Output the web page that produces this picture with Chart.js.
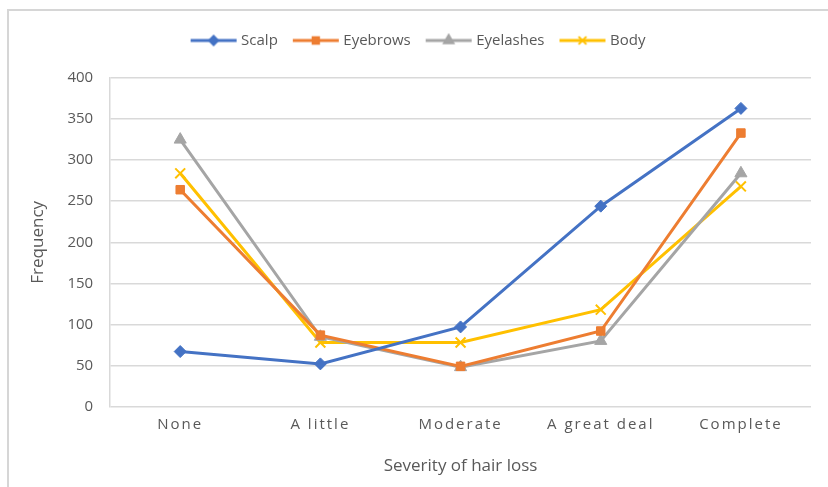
<!DOCTYPE html>
<html>
<head>
<meta charset="utf-8">
<script src="https://cdn.jsdelivr.net/npm/chart.js@4.4.1/dist/chart.umd.min.js"></script>
<style>
  html, body { margin: 0; padding: 0; background: #fff; }
  #wrap { position: relative; width: 828px; height: 487px; overflow: hidden; }
  #frame { position: absolute; left: 7px; top: 9px; width: 840px; height: 500px;
           border-top: 2px solid #d6d6d6; border-left: 2px solid #d6d6d6; box-sizing: border-box; }
  #c { position: absolute; left: 0; top: 0; }
</style>
</head>
<body>
<div id="wrap">
  <div id="frame"></div>
  <canvas id="c" width="828" height="487"></canvas>
</div>
<script>
// Severity categories and the number of responses per site of hair loss
const categories = ['None', 'A little', 'Moderate', 'A great deal', 'Complete'];
const scalp     = [67, 52, 97, 244, 363];
const eyebrows  = [264, 87, 49, 92, 333];
const eyelashes = [325, 85, 48, 80, 284];
const body      = [284, 78, 78, 118, 268];
const yTicks    = [0, 50, 100, 150, 200, 250, 300, 350, 400];

const FONT = "'Open Sans', 'Liberation Sans', sans-serif";
const TEXT = '#595959';

const styles = [
  { label: 'Scalp',     data: scalp,     color: '#4472C4', point: 'rectRot',  radius: 6 },
  { label: 'Eyebrows',  data: eyebrows,  color: '#ED7D31', point: 'rect',     radius: 6 },
  { label: 'Eyelashes', data: eyelashes, color: '#A5A5A5', point: 'triangle', radius: 7 },
  { label: 'Body',      data: body,      color: '#FFC000', point: 'crossRot', radius: 7 }
];

// Legend swatch: a short line with the series marker in its middle
function swatch(s) {
  const w = 50, h = 16;
  const cv = document.createElement('canvas');
  cv.width = w; cv.height = h;
  const ctx = cv.getContext('2d');
  ctx.strokeStyle = s.color; ctx.fillStyle = s.color; ctx.lineWidth = 3;
  ctx.beginPath(); ctx.moveTo(2, h / 2); ctx.lineTo(w - 2, h / 2); ctx.stroke();
  ctx.lineWidth = 2;
  Chart.helpers.drawPoint(ctx, { pointStyle: s.point, radius: s.radius - 1.5, borderWidth: 2 }, w / 2, h / 2);
  ctx.fill();
  return cv;
}

const datasets = styles.map(s => ({
  label: s.label,
  data: s.data,
  borderColor: s.color,
  backgroundColor: s.color,
  borderWidth: 3,
  pointStyle: s.point,
  pointRadius: s.radius,
  pointBorderWidth: s.point === 'crossRot' ? 2 : 1,
  pointBackgroundColor: s.color,
  pointBorderColor: s.color,
  tension: 0,
  legendSwatch: swatch(s)
}));

// Spaced-out category labels along the bottom axis, and extra room under the legend
const layoutTweaks = {
  id: 'layoutTweaks',
  afterInit(chart) {
    const lg = chart.legend;
    if (lg && !lg._tall) {
      const fit = lg.fit.bind(lg);
      lg.fit = function () { fit(); this.height += 20; };
      lg._tall = true;
    }
  },
  afterLayout(chart) {
    const xs = chart.scales.x;
    if (xs._spaced) return;
    const orig = xs.drawLabels.bind(xs);
    xs.drawLabels = function (area) {
      const ctx = chart.ctx;
      ctx.save();
      ctx.letterSpacing = '2px';
      orig(area);
      ctx.restore();
    };
    xs._spaced = true;
  }
};

new Chart(document.getElementById('c'), {
  type: 'line',
  data: { labels: categories, datasets },
  plugins: [layoutTweaks],
  options: {
    responsive: false,
    animation: false,
    layout: { padding: { left: 28, right: 17, top: 15, bottom: 11 } },
    plugins: {
      tooltip: { enabled: false },
      legend: {
        position: 'top',
        labels: {
          usePointStyle: true,
          pointStyleWidth: 40,
          padding: 18,
          color: TEXT,
          font: { family: FONT, size: 15 },
          generateLabels(chart) {
            return chart.data.datasets.map((d, i) => ({
              text: d.label,
              pointStyle: d.legendSwatch,
              fillStyle: d.borderColor,
              strokeStyle: d.borderColor,
              fontColor: TEXT,
              lineWidth: 0,
              hidden: false,
              datasetIndex: i
            }));
          }
        }
      }
    },
    scales: {
      x: {
        offset: true,
        grid: { display: false, drawTicks: false },
        border: { display: false },
        ticks: { color: TEXT, font: { family: FONT, size: 15 }, padding: 9 },
        title: { display: true, text: 'Severity of hair loss', color: TEXT,
                 font: { family: FONT, size: 17 }, padding: { top: 13, bottom: 0 } }
      },
      y: {
        min: 0, max: 400,
        afterBuildTicks(scale) { scale.ticks = yTicks.map(v => ({ value: v })); },
        grid: { color: '#d9d9d9', lineWidth: 1.5, drawTicks: false },
        border: { display: true, color: '#d9d9d9', width: 1.5 },
        ticks: { color: TEXT, font: { family: FONT, size: 15 }, padding: 17 },
        title: { display: true, text: 'Frequency', color: TEXT,
                 font: { family: FONT, size: 17 }, padding: { top: 0, bottom: 2 } }
      }
    }
  }
});
</script>
</body>
</html>
